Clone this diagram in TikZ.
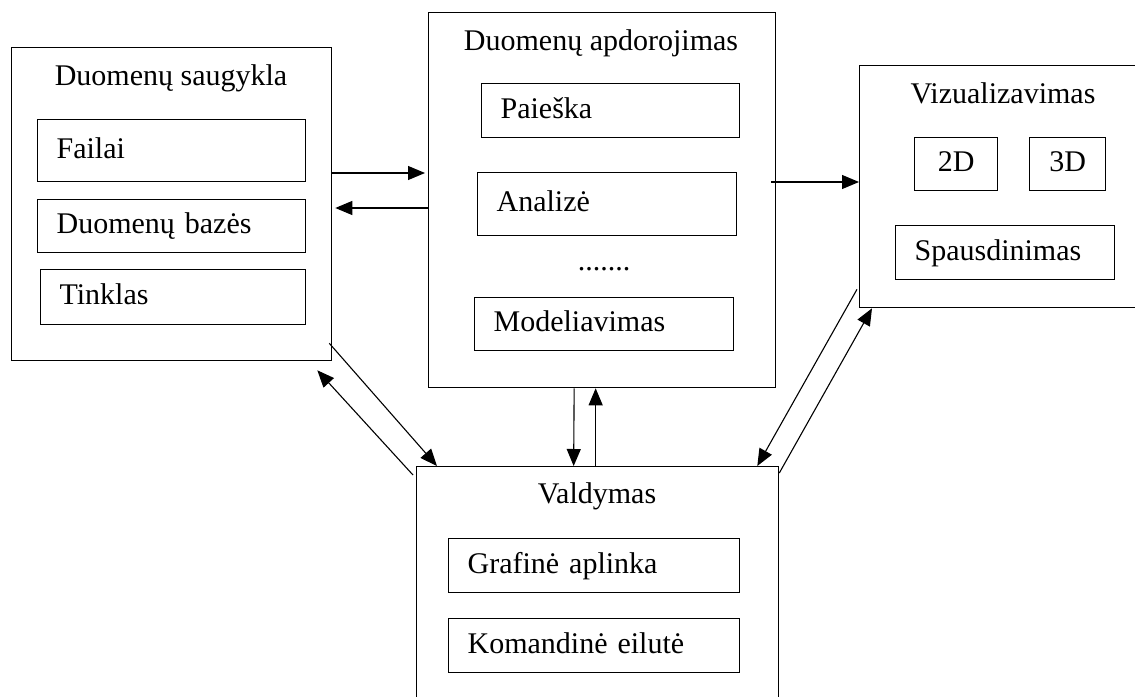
\documentclass[tikz,border=0pt]{standalone}
\usepackage{fontspec}
\setmainfont{Liberation Serif}
\usetikzlibrary{arrows.meta}
\begin{document}
\begin{tikzpicture}[x=1pt,y=-1pt,
  font=\fontsize{30}{35}\selectfont,
  groupbox/.style={draw,line width=1.3pt,inner sep=0pt,anchor=north west},
  itembox/.style={draw,line width=1.2pt,anchor=north west,inner xsep=19pt,inner ysep=0pt,
    align=left,text height=15pt,text depth=0pt},
  centerbox/.style={draw,line width=1.2pt,anchor=north west,inner sep=0pt,
    text height=15pt,text depth=0pt},
  grouptitle/.style={anchor=base,inner sep=0pt},
  flow/.style={line width=1.1pt,-{Triangle[length=17pt,width=14pt]}}]
\useasboundingbox (0,0) rectangle (1135,696);
\clip (0,0) rectangle (1135,696);

% storage group
\node[groupbox,minimum width=320pt,minimum height=313pt] (A) at (11,47) {};
\node[grouptitle] (At) at (171,85) {Duomenų saugykla};
\node[itembox,text width=230pt,minimum height=62pt] (A1) at (37,119) {Failai};
\node[itembox,text width=230pt,minimum height=53pt] (A2) at (37,199) {Duomenų bazės};
\node[itembox,text width=227pt,minimum height=55pt] (A3) at (40,269) {Tinklas};

% processing group
\node[groupbox,minimum width=347pt,minimum height=375pt] (B) at (428,12) {};
\node[grouptitle] (Bt) at (601,50) {Duomenų apdorojimas};
\node[itembox,text width=220pt,minimum height=54pt] (B1) at (481,83) {Paieška};
\node[itembox,text width=221pt,minimum height=63pt] (B2) at (477,172) {Analizė};
\node[grouptitle] (Bd) at (604,270) {.......};
\node[itembox,text width=221pt,minimum height=53pt] (B3) at (474,297) {Modeliavimas};

% visualisation group
\node[groupbox,minimum width=290pt,minimum height=242pt] (C) at (859,65) {};
\node[grouptitle] (Ct) at (1003,103) {Vizualizavimas};
\node[centerbox,minimum width=83pt,minimum height=53pt] (C1) at (914,137) {2D};
\node[centerbox,minimum width=76pt,minimum height=53pt] (C2) at (1029,137) {3D};
\node[itembox,text width=181pt,minimum height=54pt] (C3) at (895,225) {Spausdinimas};

% control group
\node[groupbox,minimum width=362pt,minimum height=250pt] (D) at (416,466) {};
\node[grouptitle] (Dt) at (597,503) {Valdymas};
\node[itembox,text width=253pt,minimum height=54pt] (D1) at (448,538) {Grafinė aplinka};
\node[itembox,text width=253pt,minimum height=54pt] (D2) at (448,618) {Komandinė eilutė};

% connectors
\draw[flow,shorten >=3pt] ([yshift=-126pt]A.north east) -- ([yshift=-161pt]B.north west);
\draw[flow,shorten >=3pt] ([yshift=-196pt]B.north west) -- ([yshift=-161pt]A.north east);
\draw[flow] ([xshift=-5pt,yshift=-170pt]B.north east) -- ([yshift=-117pt]C.north west);
\draw[flow] ([xshift=-28pt]B.south) -- ([xshift=-24pt]D.north);
\draw[flow] ([xshift=-2pt]D.north) -- ([xshift=-6.5pt]B.south);
\draw[flow] ([xshift=-3pt,yshift=18pt]A.south east) -- ([xshift=21pt]D.north west);
\draw[flow] ([xshift=-3pt,yshift=-9pt]D.north west) -- ([xshift=-15pt,yshift=-9pt]A.south east);
\draw[flow] ([xshift=-2pt,yshift=19pt]C.south west) -- ([xshift=-22pt]D.north east);
\draw[flow] ([yshift=-7pt]D.north east) -- ([xshift=13pt]C.south west);
\end{tikzpicture}
\end{document}
